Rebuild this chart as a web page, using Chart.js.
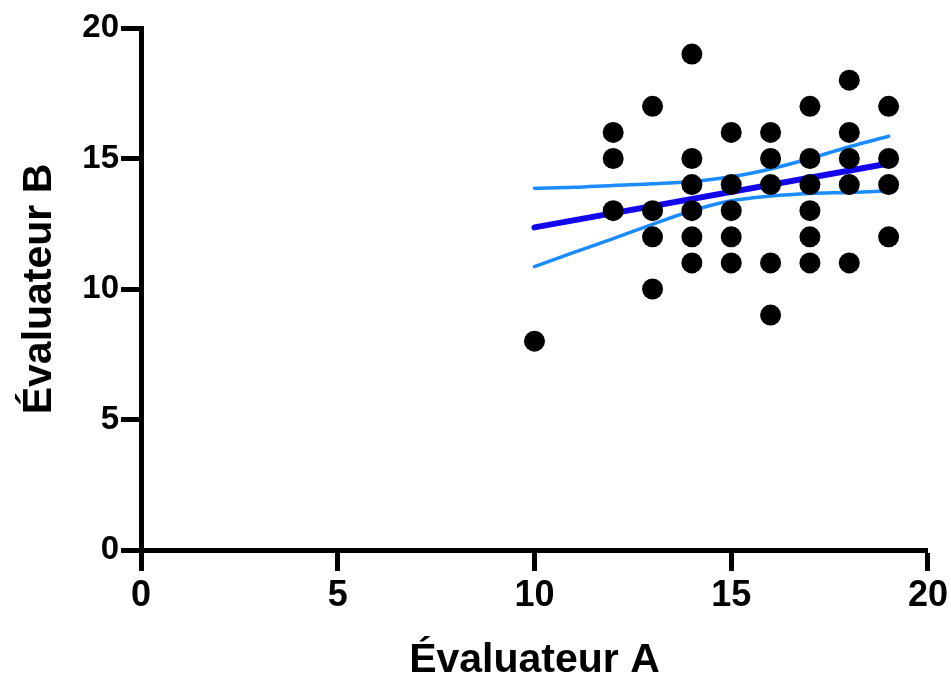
<!DOCTYPE html>
<html>
<head>
<meta charset="utf-8">
<script src="https://cdn.jsdelivr.net/npm/chart.js@4"></script>
<style>
html,body{margin:0;padding:0;background:#fff;}
#wrap{width:951px;height:682px;}
</style>
</head>
<body>
<div id="wrap"><canvas id="c" width="951" height="682"></canvas></div>
<script>
// Scatter data: Évaluateur A (x) vs Évaluateur B (y)
const pointsX = [10, 12,12,12, 13,13,13,13, 14,14,14,14,14,14, 15,15,15,15,15, 16,16,16,16,16, 17,17,17,17,17,17, 18,18,18,18,18, 19,19,19,19];
const pointsY = [8, 16,15,13, 17,13,12,10, 19,15,14,13,12,11, 16,14,13,12,11, 16,15,14,11,9, 17,15,14,13,12,11, 18,16,15,14,11, 17,15,14,12];
// Regression line endpoints
const fitX = [10, 19];
const fitY = [12.36, 14.81];
// Confidence band
const bandX = [10, 11, 12, 13, 14, 15, 16, 17, 18, 19];
const bandUpper = [13.86, 13.9, 13.97, 14.03, 14.12, 14.3, 14.6, 15.0, 15.45, 15.85];
const bandLower = [10.86, 11.4, 11.93, 12.48, 13.0, 13.38, 13.56, 13.66, 13.70, 13.76];
// Ticks
const xTicks = [0, 5, 10, 15, 20];
const yTicks = [0, 5, 10, 15, 20];

const zip = (xs, ys) => xs.map((x, i) => ({x: x, y: ys[i]}));
const FONT = "'Liberation Sans', Arial, Helvetica, sans-serif";

new Chart(document.getElementById('c'), {
  type: 'scatter',
  data: {
    datasets: [
      {
        label: 'Données',
        data: zip(pointsX, pointsY),
        backgroundColor: '#000',
        borderColor: '#000',
        borderWidth: 0,
        pointRadius: 10.5,
        pointHoverRadius: 10.5,
        showLine: false
      },
      {
        label: 'Régression',
        data: zip(fitX, fitY),
        showLine: true,
        borderColor: '#1406ec',
        borderWidth: 6,
        pointRadius: 0,
        borderCapStyle: 'round',
        fill: false
      },
      {
        label: 'IC sup',
        data: zip(bandX, bandUpper),
        showLine: true,
        borderColor: '#1a8cff',
        borderWidth: 3.5,
        pointRadius: 0,
        borderCapStyle: 'round',
        cubicInterpolationMode: 'monotone',
        fill: false
      },
      {
        label: 'IC inf',
        data: zip(bandX, bandLower),
        showLine: true,
        borderColor: '#1a8cff',
        borderWidth: 3.5,
        pointRadius: 0,
        borderCapStyle: 'round',
        cubicInterpolationMode: 'monotone',
        fill: false
      }
    ]
  },
  options: {
    responsive: false,
    animation: false,
    events: [],
    layout: { padding: { top: 28, right: 23, left: 0, bottom: 0 } },
    plugins: { legend: { display: false }, tooltip: { enabled: false } },
    scales: {
      x: {
        type: 'linear',
        min: 0, max: 20,
        afterBuildTicks: (s) => { s.ticks = xTicks.map(v => ({value: v})); },
        afterFit: (s) => { s.height = 132; },
        grid: { display: true, drawOnChartArea: false, drawTicks: true, tickLength: 21, tickWidth: 5, tickColor: '#000' },
        border: { display: true, width: 5, color: '#000' },
        ticks: { color: '#000', padding: 3, font: { family: FONT, size: 36, weight: 'bold' }, maxRotation: 0 },
        title: { display: true, text: 'Évaluateur A', color: '#000', padding: { top: 0, bottom: 1 }, font: { family: FONT, size: 41, weight: 'bold', lineHeight: 1 } }
      },
      y: {
        type: 'linear',
        min: 0, max: 20,
        afterBuildTicks: (s) => { s.ticks = yTicks.map(v => ({value: v})); },
        afterFit: (s) => { s.width = 141; },
        grid: { display: true, drawOnChartArea: false, drawTicks: true, tickLength: 20, tickWidth: 5, tickColor: '#000' },
        border: { display: true, width: 5, color: '#000' },
        ticks: { color: '#000', padding: 2, font: { family: FONT, size: 33, weight: 'bold' } },
        title: { display: true, text: 'Évaluateur B', color: '#000', padding: { top: 19, bottom: 0 }, font: { family: FONT, size: 41, weight: 'bold', lineHeight: 1 } }
      }
    }
  }
});
</script>
</body>
</html>
